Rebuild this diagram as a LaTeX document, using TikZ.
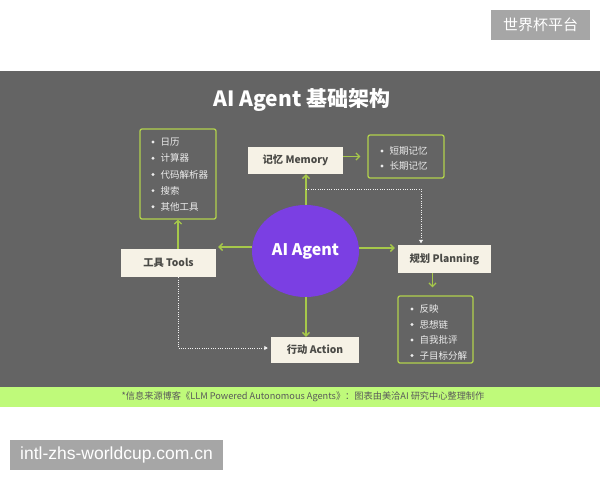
\documentclass[tikz,border=0pt]{standalone}
\usepackage{fontspec}
\setmainfont{Noto Sans CJK SC}
\newfontfamily\wmfont{Liberation Sans}
\usetikzlibrary{arrows.meta,shapes.geometric}
\definecolor{panel}{HTML}{646464}
\definecolor{gline}{HTML}{A6C84A}
\definecolor{boxfill}{HTML}{F6F2E6}
\definecolor{boxtext}{HTML}{4A4A46}
\definecolor{lborder}{HTML}{B2D24C}
\definecolor{ltext}{HTML}{ECECEC}
\definecolor{agentc}{HTML}{7B3FE3}
\definecolor{strip}{HTML}{BFFA7A}
\definecolor{foottext}{HTML}{5A5A5A}
\definecolor{wmgray}{HTML}{A6A6A6}
\begin{document}
\begin{tikzpicture}[x=1pt,y=-1pt,
  mainbox/.style={draw=none,fill=boxfill,text=boxtext,font=\fontsize{10.3}{12}\selectfont\bfseries,inner sep=0pt},
  listbox/.style={draw=lborder,line width=1.3pt,rounded corners=2pt,inner sep=0pt},
  item/.style={text=ltext,font=\fontsize{9.5}{11}\selectfont,anchor=west,inner sep=0pt},
  bul/.style={circle,fill=ltext,inner sep=0pt,minimum size=3.2pt},
  garrow/.style={draw=gline,line width=1.3pt,-{Straight Barb[length=3.5pt,width=7pt]}},
  darrow/.style={draw=white!90!gray,line width=1pt,dash pattern=on 1pt off 1.3pt,-{Triangle[length=3.5pt,width=4pt]}},
  wm/.style={fill=wmgray,text=white,inner sep=0pt}]
\useasboundingbox (0,0) rectangle (600,480);
\fill[white] (0,0) rectangle (600,480);
\fill[panel] (0,71) rectangle (600,387);
\fill[strip] (0,387) rectangle (600,407);

% watermarks
\node[wm,minimum width=99pt,minimum height=30pt,font=\fontsize{15}{17}\selectfont] (wmtop) at (540.5,25) {世界杯平台};
\node[wm,minimum width=213pt,minimum height=30pt,font=\wmfont\fontsize{17.5}{19}\selectfont] (wmbot) at (116.5,455) {intl-zhs-worldcup.com.cn};

% title & footer
\node[text=white,font=\fontsize{21}{24}\selectfont\bfseries] (title) at (302,100) {AI Agent 基础架构};
\node[text=foottext,font=\fontsize{9.2}{10}\selectfont] (foot) at (303,397) {*信息来源博客《LLM Powered Autonomous Agents》：图表由美洽AI 研究中心整理制作};

% main nodes
\node[ellipse,fill=agentc,minimum width=107pt,minimum height=92pt,inner sep=0pt,text=white,font=\fontsize{16}{18}\selectfont\bfseries] (agent) at (305.5,251) {AI Agent};
\node[mainbox,minimum width=95pt,minimum height=27pt] (memory) at (295.5,160.5) {记忆 Memory};
\node[mainbox,minimum width=93pt,minimum height=28pt] (planning) at (444.5,259) {规划 Planning};
\node[mainbox,minimum width=95pt,minimum height=28pt] (tools) at (168.5,263) {工具 Tools};
\node[mainbox,minimum width=88pt,minimum height=26pt] (action) at (315,350) {行动 Action};

% list boxes
\node[listbox,minimum width=76pt,minimum height=90pt] (toollist) at (178,174) {};
\node[listbox,minimum width=76pt,minimum height=43pt] (memlist) at (406,156.5) {};
\node[listbox,minimum width=75pt,minimum height=67pt] (planlist) at (435.5,329.5) {};

% tool items
\foreach \t [count=\i] in {日历,计算器,代码解析器,搜索,其他工具}{
  \pgfmathsetmacro\yy{142+(\i-1)*16.2}
  \node[bul] (tb\i) at (153,\yy) {};
  \node[item] (ti\i) at (160.5,\yy) {\t};
}
% memory items
\foreach \t [count=\i] in {短期记忆,长期记忆}{
  \pgfmathsetmacro\yy{151+(\i-1)*15}
  \node[bul] (mb\i) at (382,\yy) {};
  \node[item] (mi\i) at (389.5,\yy) {\t};
}
% planning items
\foreach \t [count=\i] in {反映,思想链,自我批评,子目标分解}{
  \pgfmathsetmacro\yy{309+(\i-1)*15.5}
  \node[bul] (pb\i) at (412,\yy) {};
  \node[item] (pi\i) at (419.5,\yy) {\t};
}

% green arrows
\draw[garrow] ([xshift=0.5pt]agent.north) -- ([xshift=0.5pt]agent.north |- memory.south);
\draw[garrow,shorten >=3pt] ([yshift=3pt]agent.east) -- ([yshift=3pt]agent.east -| planning.west);
\draw[garrow,shorten >=2pt] ([yshift=4pt]agent.west) -- ([yshift=4pt]agent.west -| tools.east);
\draw[garrow] ([xshift=0.5pt]agent.south) -- ([xshift=0.5pt]agent.south |- action.north);
\draw[garrow] (toollist.south |- tools.north) -- (toollist.south);
\draw[garrow,shorten >=7pt] (memory.east |- memlist.west) -- (memlist.west);
\draw[garrow,shorten >=8pt] ([xshift=-12pt]planning.south) -- ([xshift=-12pt]planning.south |- planlist.north);

% dotted connectors
\coordinate (dm) at (306,189);
\draw[darrow,shorten >=1.5pt] (dm) -| ([xshift=-23.5pt]planning.north);
\draw[darrow,shorten >=3pt] (toollist.south |- tools.south) |- ([yshift=2pt]action.west);
\end{tikzpicture}
\end{document}
